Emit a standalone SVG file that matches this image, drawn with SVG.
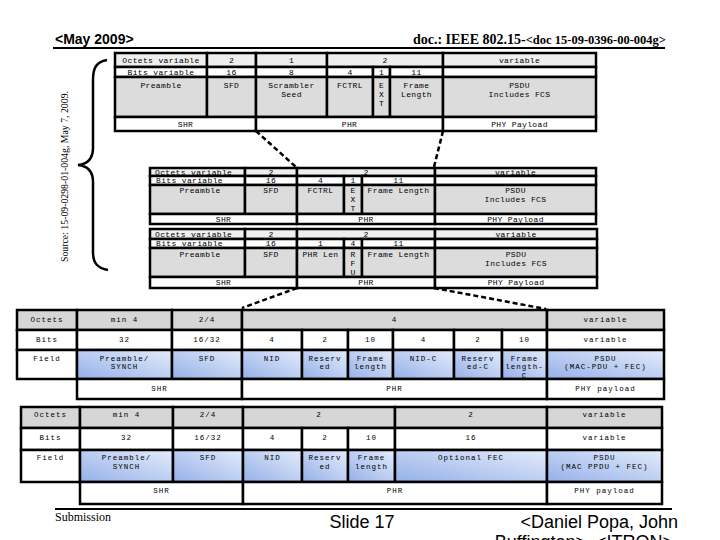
<svg xmlns="http://www.w3.org/2000/svg" width="720" height="540" viewBox="0 0 720 540">
<style>
.c{stroke:#000;stroke-width:2.5}
.w{fill:#fff}.g1{fill:#eeeeee}.g2{fill:#dcdcdc}.g3{fill:#d6d6d6}.b{fill:url(#blue)}
.t{font-family:"Liberation Mono","DejaVu Sans Mono",monospace;font-size:8px;letter-spacing:0.35px;text-anchor:middle;dominant-baseline:central;fill:#000}
.tl{text-anchor:start}
.u{font-family:"Liberation Mono","DejaVu Sans Mono",monospace;font-size:7.5px;letter-spacing:1px;text-anchor:middle;dominant-baseline:central;fill:#000}
.con{stroke:#000;stroke-width:2.5;stroke-dasharray:5 3;fill:none}
</style>
<defs>
<linearGradient id="blue" x1="0" y1="1" x2="1" y2="0">
<stop offset="0" stop-color="#95b0e8"/>
<stop offset="1" stop-color="#e4ecfb"/>
</linearGradient>
</defs>
<rect width="720" height="540" fill="#fff"/>

<g id="header">
<text x="55" y="44" font-family="Liberation Sans, Arial, sans-serif" font-size="14" font-weight="bold">&lt;May 2009&gt;</text>
<text x="666" y="44" text-anchor="end" font-family="Liberation Serif, Times New Roman, serif" font-weight="bold"><tspan font-size="14">doc.: IEEE 802.15-</tspan><tspan font-size="12.5">&lt;doc 15-09-0396-00-004g&gt;</tspan></text>
<line x1="53" y1="48" x2="665" y2="48" stroke="#000" stroke-width="2"/>
</g>

<g id="source">
<path d="M107,60 C96,62 93,68 93,80 L93,148 C93,158 88,164 78,165 C88,166 93,172 93,182 L93,252 C93,264 98,268 108,270" fill="none" stroke="#000" stroke-width="2.5"/>
<text transform="translate(68,262) rotate(-90)" font-family="Liberation Serif, Times New Roman, serif" font-size="11" textLength="171" lengthAdjust="spacingAndGlyphs">Source: 15-09-0298-01-004g, May 7, 2009.</text>
</g>

<g id="connectors">
<line class="con" x1="256" y1="131" x2="296" y2="167"/>
<line class="con" x1="443" y1="131" x2="434" y2="167"/>
<line class="con" x1="297" y1="288" x2="242" y2="308"/>
<line class="con" x1="434" y1="288" x2="546" y2="309"/>
</g>

<g id="table1">
<rect class="c g1" x="115" y="53" width="92" height="14"/>
<rect class="c g1" x="207" y="53" width="49" height="14"/>
<rect class="c g1" x="256" y="53" width="71" height="14"/>
<rect class="c g1" x="327" y="53" width="116" height="14"/>
<rect class="c g1" x="443" y="53" width="153" height="14"/>
<rect class="c w" x="115" y="67" width="92" height="10"/>
<rect class="c w" x="207" y="67" width="49" height="10"/>
<rect class="c w" x="256" y="67" width="71" height="10"/>
<rect class="c w" x="327" y="67" width="46" height="10"/>
<rect class="c w" x="373" y="67" width="17" height="10"/>
<rect class="c w" x="390" y="67" width="53" height="10"/>
<rect class="c w" x="443" y="67" width="153" height="10"/>
<rect class="c g2" x="115" y="77" width="92" height="40"/>
<rect class="c g2" x="207" y="77" width="49" height="40"/>
<rect class="c g2" x="256" y="77" width="71" height="40"/>
<rect class="c g2" x="327" y="77" width="46" height="40"/>
<rect class="c g2" x="373" y="77" width="17" height="40"/>
<rect class="c g2" x="390" y="77" width="53" height="40"/>
<rect class="c g2" x="443" y="77" width="153" height="40"/>
<rect class="c w" x="115" y="117" width="141" height="14"/>
<rect class="c w" x="256" y="117" width="187" height="14"/>
<rect class="c w" x="443" y="117" width="153" height="14"/>
<text class="t" x="161" y="60">Octets variable</text>
<text class="t" x="231.5" y="60">2</text>
<text class="t" x="291.5" y="60">1</text>
<text class="t" x="385" y="60">2</text>
<text class="t" x="519.5" y="60">variable</text>
<text class="t" x="161" y="72">Bits variable</text>
<text class="t" x="231.5" y="72">16</text>
<text class="t" x="291.5" y="72">8</text>
<text class="t" x="350" y="72">4</text>
<text class="t" x="381.5" y="72">1</text>
<text class="t" x="416.5" y="72">11</text>
<text class="t" x="161" y="85">Preamble</text>
<text class="t" x="231.5" y="85">SFD</text>
<text class="t" x="291.5" y="85">Scrambler</text>
<text class="t" x="291.5" y="94">Seed</text>
<text class="t" x="350" y="85">FCTRL</text>
<text class="t" x="381.5" y="85">E</text>
<text class="t" x="381.5" y="94">X</text>
<text class="t" x="381.5" y="103">T</text>
<text class="t" x="416.5" y="85">Frame</text>
<text class="t" x="416.5" y="94">Length</text>
<text class="t" x="519.5" y="85">PSDU</text>
<text class="t" x="519.5" y="94">Includes FCS</text>
<text class="t" x="185.5" y="124">SHR</text>
<text class="t" x="349.5" y="124">PHR</text>
<text class="t" x="519.5" y="124">PHY Payload</text>
</g>

<g id="table2">
<rect class="c g1" x="150" y="168" width="95" height="8"/>
<rect class="c g1" x="245" y="168" width="52" height="8"/>
<rect class="c g1" x="297" y="168" width="138" height="8"/>
<rect class="c g1" x="435" y="168" width="161" height="8"/>
<rect class="c w" x="150" y="176" width="95" height="9"/>
<rect class="c w" x="245" y="176" width="52" height="9"/>
<rect class="c w" x="297" y="176" width="47" height="9"/>
<rect class="c w" x="344" y="176" width="18" height="9"/>
<rect class="c w" x="362" y="176" width="73" height="9"/>
<rect class="c w" x="435" y="176" width="161" height="9"/>
<rect class="c g2" x="150" y="185" width="95" height="29"/>
<rect class="c g2" x="245" y="185" width="52" height="29"/>
<rect class="c g2" x="297" y="185" width="47" height="29"/>
<rect class="c g2" x="344" y="185" width="18" height="29"/>
<rect class="c g2" x="362" y="185" width="73" height="29"/>
<rect class="c g2" x="435" y="185" width="161" height="29"/>
<rect class="c w" x="150" y="214" width="147" height="10"/>
<rect class="c w" x="297" y="214" width="138" height="10"/>
<rect class="c w" x="435" y="214" width="161" height="10"/>
<text class="t tl" x="155" y="172">Octets variable</text>
<text class="t" x="271" y="172">2</text>
<text class="t" x="366" y="172">2</text>
<text class="t" x="515.5" y="172">variable</text>
<text class="t tl" x="156" y="180.5">Bits variable</text>
<text class="t" x="271" y="180.5">16</text>
<text class="t" x="320.5" y="180.5">4</text>
<text class="t" x="353" y="180.5">1</text>
<text class="t" x="398.5" y="180.5">11</text>
<text class="t" x="200" y="190.5">Preamble</text>
<text class="t" x="271" y="190.5">SFD</text>
<text class="t" x="320.5" y="190.5">FCTRL</text>
<text class="t" x="353" y="190.5">E</text>
<text class="t" x="353" y="199.5">X</text>
<text class="t" x="353" y="208.5">T</text>
<text class="t" x="398.5" y="190.5">Frame Length</text>
<text class="t" x="515.5" y="190.5">PSDU</text>
<text class="t" x="515.5" y="199.5">Includes FCS</text>
<text class="t" x="223.5" y="219">SHR</text>
<text class="t" x="366" y="219">PHR</text>
<text class="t" x="515.5" y="219">PHY Payload</text>
</g>

<g id="table3">
<rect class="c g1" x="150" y="229" width="95" height="10"/>
<rect class="c g1" x="245" y="229" width="52" height="10"/>
<rect class="c g1" x="297" y="229" width="138" height="10"/>
<rect class="c g1" x="435" y="229" width="162" height="10"/>
<rect class="c w" x="150" y="239" width="95" height="9"/>
<rect class="c w" x="245" y="239" width="52" height="9"/>
<rect class="c w" x="297" y="239" width="47" height="9"/>
<rect class="c w" x="344" y="239" width="18" height="9"/>
<rect class="c w" x="362" y="239" width="73" height="9"/>
<rect class="c w" x="435" y="239" width="162" height="9"/>
<rect class="c g2" x="150" y="248" width="95" height="29"/>
<rect class="c g2" x="245" y="248" width="52" height="29"/>
<rect class="c g2" x="297" y="248" width="47" height="29"/>
<rect class="c g2" x="344" y="248" width="18" height="29"/>
<rect class="c g2" x="362" y="248" width="73" height="29"/>
<rect class="c g2" x="435" y="248" width="162" height="29"/>
<rect class="c w" x="150" y="277" width="147" height="11"/>
<rect class="c w" x="297" y="277" width="138" height="11"/>
<rect class="c w" x="435" y="277" width="162" height="11"/>
<text class="t tl" x="155" y="234">Octets variable</text>
<text class="t" x="271" y="234">2</text>
<text class="t" x="366" y="234">2</text>
<text class="t" x="516" y="234">variable</text>
<text class="t tl" x="156" y="243.5">Bits variable</text>
<text class="t" x="271" y="243.5">16</text>
<text class="t" x="320.5" y="243.5">1</text>
<text class="t" x="353" y="243.5">4</text>
<text class="t" x="398.5" y="243.5">11</text>
<text class="t" x="200" y="254">Preamble</text>
<text class="t" x="271" y="254">SFD</text>
<text class="t" x="320.5" y="254">PHR Len</text>
<text class="t" x="353" y="254">R</text>
<text class="t" x="353" y="263">F</text>
<text class="t" x="353" y="272">U</text>
<text class="t" x="398.5" y="254">Frame Length</text>
<text class="t" x="516" y="254">PSDU</text>
<text class="t" x="516" y="263">Includes FCS</text>
<text class="t" x="223.5" y="282.5">SHR</text>
<text class="t" x="366" y="282.5">PHR</text>
<text class="t" x="516" y="282.5">PHY Payload</text>
</g>

<g id="table4">
<rect class="c g3" x="17" y="310" width="60" height="20"/>
<rect class="c g3" x="77" y="310" width="95" height="20"/>
<rect class="c g3" x="172" y="310" width="70" height="20"/>
<rect class="c g3" x="242" y="310" width="305" height="20"/>
<rect class="c g3" x="547" y="310" width="117" height="20"/>
<rect class="c w" x="17" y="330" width="60" height="20"/>
<rect class="c w" x="77" y="330" width="95" height="20"/>
<rect class="c w" x="172" y="330" width="70" height="20"/>
<rect class="c w" x="242" y="330" width="60" height="20"/>
<rect class="c w" x="302" y="330" width="46" height="20"/>
<rect class="c w" x="348" y="330" width="45" height="20"/>
<rect class="c w" x="393" y="330" width="61" height="20"/>
<rect class="c w" x="454" y="330" width="48" height="20"/>
<rect class="c w" x="502" y="330" width="45" height="20"/>
<rect class="c w" x="547" y="330" width="117" height="20"/>
<rect class="c w" x="17" y="350" width="60" height="29"/>
<rect class="c b" x="77" y="350" width="95" height="29"/>
<rect class="c b" x="172" y="350" width="70" height="29"/>
<rect class="c b" x="242" y="350" width="60" height="29"/>
<rect class="c b" x="302" y="350" width="46" height="29"/>
<rect class="c b" x="348" y="350" width="45" height="29"/>
<rect class="c b" x="393" y="350" width="61" height="29"/>
<rect class="c b" x="454" y="350" width="48" height="29"/>
<rect class="c b" x="502" y="350" width="45" height="29"/>
<rect class="c b" x="547" y="350" width="117" height="29"/>
<rect class="c w" x="77" y="379" width="165" height="20"/>
<rect class="c w" x="242" y="379" width="305" height="20"/>
<rect class="c w" x="547" y="379" width="117" height="20"/>
<text class="u" x="47" y="320">Octets</text>
<text class="u" x="124.5" y="320">min 4</text>
<text class="u" x="207" y="320">2/4</text>
<text class="u" x="394.5" y="320">4</text>
<text class="u" x="605.5" y="320">variable</text>
<text class="u" x="47" y="340">Bits</text>
<text class="u" x="124.5" y="340">32</text>
<text class="u" x="207" y="340">16/32</text>
<text class="u" x="272" y="340">4</text>
<text class="u" x="325" y="340">2</text>
<text class="u" x="370.5" y="340">10</text>
<text class="u" x="423.5" y="340">4</text>
<text class="u" x="478" y="340">2</text>
<text class="u" x="524.5" y="340">10</text>
<text class="u" x="605.5" y="340">variable</text>
<text class="u" x="47" y="358.5">Field</text>
<text class="u" x="124.5" y="358.5">Preamble/</text>
<text class="u" x="124.5" y="367">SYNCH</text>
<text class="u" x="207" y="358.5">SFD</text>
<text class="u" x="272" y="358.5">NID</text>
<text class="u" x="325" y="358.5">Reserv</text>
<text class="u" x="325" y="367">ed</text>
<text class="u" x="370.5" y="358.5">Frame</text>
<text class="u" x="370.5" y="367">length</text>
<text class="u" x="423.5" y="358.5">NID-C</text>
<text class="u" x="478" y="358.5">Reserv</text>
<text class="u" x="478" y="367">ed-C</text>
<text class="u" x="524.5" y="358.5">Frame</text>
<text class="u" x="524.5" y="367">length-</text>
<text class="u" x="524.5" y="375.5">C</text>
<text class="u" x="605.5" y="358.5">PSDU</text>
<text class="u" x="605.5" y="367">(MAC-PDU + FEC)</text>
<text class="u" x="159.5" y="389">SHR</text>
<text class="u" x="394.5" y="389">PHR</text>
<text class="u" x="605.5" y="389">PHY payload</text>
</g>

<g id="table5">
<rect class="c g3" x="21" y="407" width="59" height="21"/>
<rect class="c g3" x="80" y="407" width="93" height="21"/>
<rect class="c g3" x="173" y="407" width="70" height="21"/>
<rect class="c g3" x="243" y="407" width="152" height="21"/>
<rect class="c g3" x="395" y="407" width="152" height="21"/>
<rect class="c g3" x="547" y="407" width="115" height="21"/>
<rect class="c w" x="21" y="428" width="59" height="22"/>
<rect class="c w" x="80" y="428" width="93" height="22"/>
<rect class="c w" x="173" y="428" width="70" height="22"/>
<rect class="c w" x="243" y="428" width="59" height="22"/>
<rect class="c w" x="302" y="428" width="46" height="22"/>
<rect class="c w" x="348" y="428" width="47" height="22"/>
<rect class="c w" x="395" y="428" width="152" height="22"/>
<rect class="c w" x="547" y="428" width="115" height="22"/>
<rect class="c w" x="21" y="450" width="59" height="32"/>
<rect class="c b" x="80" y="450" width="93" height="32"/>
<rect class="c b" x="173" y="450" width="70" height="32"/>
<rect class="c b" x="243" y="450" width="59" height="32"/>
<rect class="c b" x="302" y="450" width="46" height="32"/>
<rect class="c b" x="348" y="450" width="47" height="32"/>
<rect class="c b" x="395" y="450" width="152" height="32"/>
<rect class="c b" x="547" y="450" width="115" height="32"/>
<rect class="c w" x="80" y="482" width="163" height="22"/>
<rect class="c w" x="243" y="482" width="304" height="22"/>
<rect class="c w" x="547" y="482" width="115" height="22"/>
<text class="u" x="50.5" y="414.5">Octets</text>
<text class="u" x="126.5" y="414.5">min 4</text>
<text class="u" x="208" y="414.5">2/4</text>
<text class="u" x="319" y="414.5">2</text>
<text class="u" x="471" y="414.5">2</text>
<text class="u" x="604.5" y="414.5">variable</text>
<text class="u" x="50.5" y="437.5">Bits</text>
<text class="u" x="126.5" y="437.5">32</text>
<text class="u" x="208" y="437.5">16/32</text>
<text class="u" x="272.5" y="437.5">4</text>
<text class="u" x="325" y="437.5">2</text>
<text class="u" x="371.5" y="437.5">10</text>
<text class="u" x="471" y="437.5">16</text>
<text class="u" x="604.5" y="437.5">variable</text>
<text class="u" x="50.5" y="458">Field</text>
<text class="u" x="126.5" y="458">Preamble/</text>
<text class="u" x="126.5" y="466.5">SYNCH</text>
<text class="u" x="208" y="458">SFD</text>
<text class="u" x="272.5" y="458">NID</text>
<text class="u" x="325" y="458">Reserv</text>
<text class="u" x="325" y="466.5">ed</text>
<text class="u" x="371.5" y="458">Frame</text>
<text class="u" x="371.5" y="466.5">length</text>
<text class="u" x="471" y="458">Optional FEC</text>
<text class="u" x="604.5" y="458">PSDU</text>
<text class="u" x="604.5" y="466.5">(MAC PPDU + FEC)</text>
<text class="u" x="161.5" y="491">SHR</text>
<text class="u" x="395" y="491">PHR</text>
<text class="u" x="604.5" y="491">PHY payload</text>
</g>

<g id="footer">
<line x1="55" y1="509" x2="672" y2="509" stroke="#000" stroke-width="2"/>
<text x="55" y="521" font-family="Liberation Serif, Times New Roman, serif" font-size="12">Submission</text>
<text x="362" y="528" text-anchor="middle" font-family="Liberation Sans, Arial, sans-serif" font-size="18">Slide 17</text>
<text x="678" y="528" text-anchor="end" font-family="Liberation Sans, Arial, sans-serif" font-size="18">&lt;Daniel Popa, John</text>
<text x="673" y="548" text-anchor="end" font-family="Liberation Sans, Arial, sans-serif" font-size="18">Buffington&gt;, &lt;ITRON&gt;</text>
</g>
</svg>
